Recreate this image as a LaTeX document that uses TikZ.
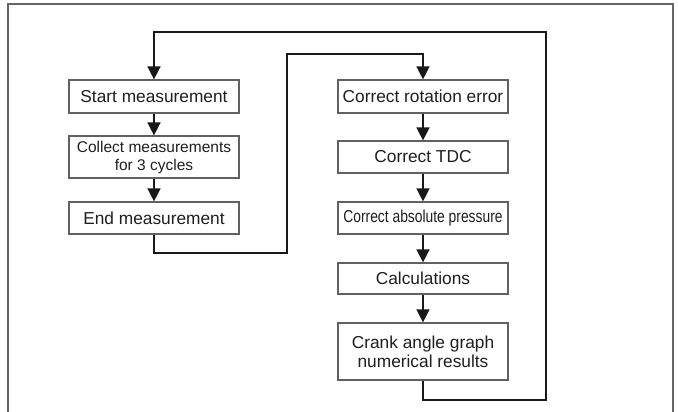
\documentclass[tikz,border=0pt]{standalone}
\usepackage{fontspec}
\setmainfont{Liberation Sans}
\usetikzlibrary{arrows.meta}

\begin{document}
\begin{tikzpicture}[x=1pt,y=-1pt,
  stepbox/.style={draw=black!62,line width=1.2pt,fill=white,inner sep=0pt,
    minimum width=170pt,align=center,text=black!88,
    font=\fontsize{17.3}{19}\selectfont},
  flow/.style={draw=black!90,line width=1.5pt,line join=miter,
    -{Triangle[width=13pt,length=13pt]}},
  frame/.style={draw=black!60,line width=1.5pt}]
\useasboundingbox (0,0) rectangle (678,412);

% open frame around the chart
\draw[frame] (8,420) -- (8,4) -- (673,4) -- (673,420);

% measurement column
\node[stepbox,minimum height=33pt] (start) at (154,96.5) {Start measurement};
\node[stepbox,minimum height=42pt,font=\fontsize{15.5}{18}\selectfont] (collect) at (154,157)
  {Collect measurements\\for 3 cycles};
\node[stepbox,minimum height=32pt] (endm) at (154,218) {End measurement};

% processing column
\node[stepbox,minimum height=33pt] (rot) at (423,96.5) {Correct rotation error};
\node[stepbox,minimum height=32pt] (tdc) at (423,157) {Correct TDC};
\node[stepbox,minimum height=32pt] (abs) at (423,218)
  {\scalebox{0.8}[1]{Correct absolute pressure}};
\node[stepbox,minimum height=31pt] (calc) at (423,278.5) {Calculations};
\node[stepbox,minimum height=57pt] (crank) at (423,351.5)
  {Crank angle graph\\numerical results};

% routing corners
\coordinate (m1) at (287,253);
\coordinate (m2) at (287,54);
\coordinate (r1) at (546,400);
\coordinate (r2) at (546,32);

% straight steps
\draw[flow] (start) -- (collect);
\draw[flow] (collect) -- (endm);
\draw[flow] (rot) -- (tdc);
\draw[flow] (tdc) -- (abs);
\draw[flow] (abs) -- (calc);
\draw[flow] (calc) -- (crank);

% hand-over and repeat loops
\draw[flow] (endm.south) |- (m1) -- (m2) -| (rot.north);
\draw[flow] (crank.south) |- (r1) -- (r2) -| (start.north);
\end{tikzpicture}
\end{document}
